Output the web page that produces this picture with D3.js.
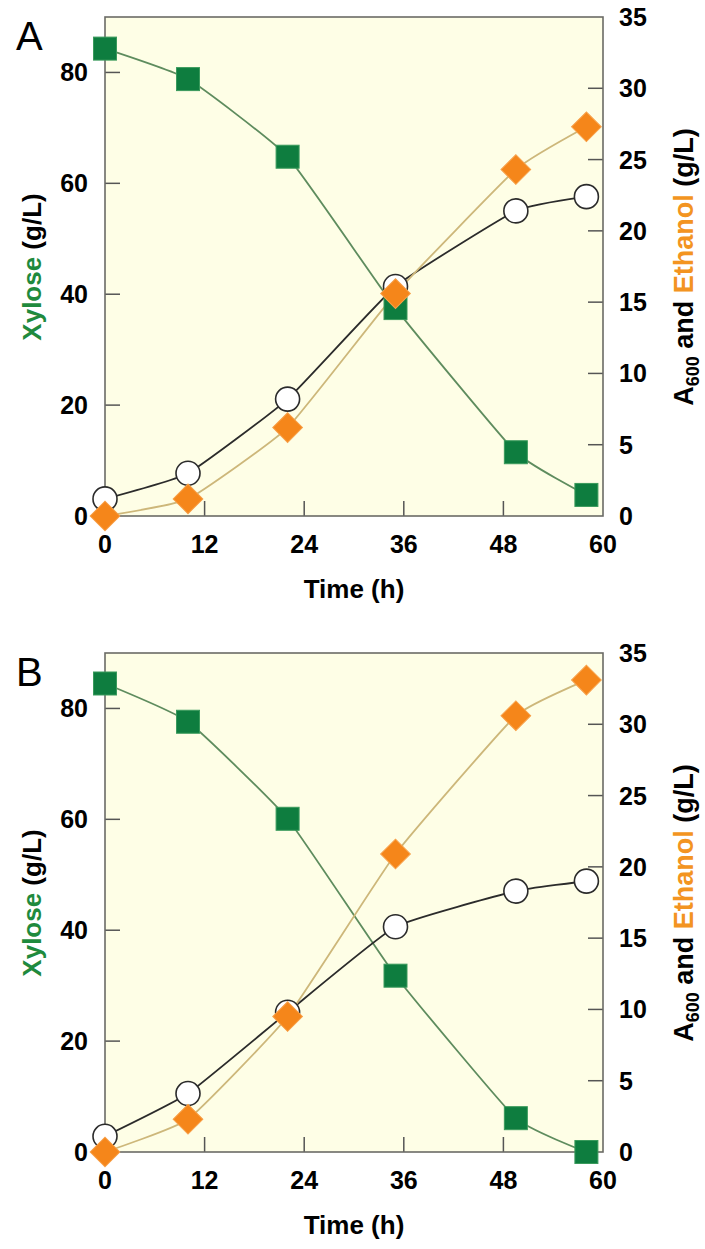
<!DOCTYPE html>
<html>
<head>
<meta charset="utf-8">
<script src="https://cdn.jsdelivr.net/npm/d3@7"></script>
<style>
  body { margin: 0; background: #fff; }
  text { font-family: "Liberation Sans", Arial, sans-serif; }
</style>
</head>
<body>
<div id="chart"></div>
<script>
'use strict';

// sampling times (h)
var time = [0, 10, 22, 35, 49.5, 58];

// panel A
var xyloseA = [84.3, 78.8, 64.8, 37.5, 11.5, 3.8];
var a600A = [1.2, 3.0, 8.2, 16.1, 21.4, 22.4];
var ethanolA = [0, 1.2, 6.2, 15.6, 24.3, 27.3];

// panel B
var xyloseB = [84.5, 77.6, 60.1, 31.8, 6.1, 0];
var a600B = [1.1, 4.1, 9.8, 15.8, 18.3, 19.0];
var ethanolB = [0, 2.3, 9.5, 20.9, 30.6, 33.1];

var xTicks = [0, 12, 24, 36, 48, 60];
var leftTicks = [0, 20, 40, 60, 80];
var rightTicks = [0, 5, 10, 15, 20, 25, 30, 35];

var W = 705, H = 1249;
var green = '#0e7d3f', orange = '#f5861a';

var svg = d3.select('#chart').append('svg')
    .attr('width', W)
    .attr('height', H);

var x = d3.scaleLinear().domain([0, 60]).range([105, 603]);
var yL = d3.scaleLinear().domain([0, 90]).range([499, 0]);
var yR = d3.scaleLinear().domain([0, 35]).range([499, 0]);

function drawPanel(top, letter, xylose, a600, ethanol) {
    var g = svg.append('g').attr('transform', 'translate(0,' + top + ')');
    var h = 499;

    g.append('rect')
        .attr('x', x(0)).attr('y', 0)
        .attr('width', x(60) - x(0)).attr('height', h)
        .attr('fill', '#fefee6');

    // inward ticks
    var tickCol = '#555';
    g.selectAll('.tl').data(leftTicks.filter(function(d) { return d > 0; }))
        .enter().append('line')
        .attr('x1', x(0)).attr('x2', x(0) + 15)
        .attr('y1', function(d) { return yL(d); }).attr('y2', function(d) { return yL(d); })
        .attr('stroke', tickCol).attr('stroke-width', 1.5);
    g.selectAll('.tr').data(rightTicks.filter(function(d) { return d > 0 && d < 35; }))
        .enter().append('line')
        .attr('x1', x(60)).attr('x2', x(60) - 15)
        .attr('y1', function(d) { return yR(d); }).attr('y2', function(d) { return yR(d); })
        .attr('stroke', tickCol).attr('stroke-width', 1.5);
    g.selectAll('.tb').data(xTicks.filter(function(d) { return d > 0 && d < 60; }))
        .enter().append('line')
        .attr('x1', function(d) { return x(d); }).attr('x2', function(d) { return x(d); })
        .attr('y1', h).attr('y2', h - 15)
        .attr('stroke', tickCol).attr('stroke-width', 1.5);

    g.append('rect')
        .attr('x', x(0)).attr('y', 0)
        .attr('width', x(60) - x(0)).attr('height', h)
        .attr('fill', 'none')
        .attr('stroke', '#6b6b66').attr('stroke-width', 1.6);

    // tick labels
    g.selectAll('.ll').data(leftTicks).enter().append('text')
        .attr('x', 88).attr('y', function(d) { return yL(d) + 9; })
        .attr('text-anchor', 'end')
        .attr('font-size', 25).attr('font-weight', 'bold')
        .text(function(d) { return d; });
    g.selectAll('.rl').data(rightTicks).enter().append('text')
        .attr('x', 619).attr('y', function(d) { return yR(d) + 9; })
        .attr('font-size', 25).attr('font-weight', 'bold')
        .text(function(d) { return d; });
    g.selectAll('.bl').data(xTicks).enter().append('text')
        .attr('x', function(d) { return x(d); }).attr('y', h + 37)
        .attr('text-anchor', 'middle')
        .attr('font-size', 25).attr('font-weight', 'bold')
        .text(function(d) { return d; });

    g.append('text')
        .attr('x', 354).attr('y', h + 82)
        .attr('text-anchor', 'middle')
        .attr('font-size', 26).attr('font-weight', 'bold')
        .text('Time (h)');

    g.append('text')
        .attr('x', 16).attr('y', 33)
        .attr('font-size', 40)
        .text(letter);

    var lt = g.append('text')
        .attr('transform', 'translate(41,' + 250 + ') rotate(-90)')
        .attr('text-anchor', 'middle')
        .attr('font-size', 26).attr('font-weight', 'bold');
    lt.append('tspan').attr('fill', '#1f8a3d').text('Xylose');
    lt.append('tspan').text(' (g/L)');

    var rt = g.append('text')
        .attr('transform', 'translate(693,' + 250 + ') rotate(-90)')
        .attr('text-anchor', 'middle')
        .attr('font-size', 27).attr('font-weight', 'bold');
    rt.append('tspan').text('A');
    rt.append('tspan').attr('font-size', 18).attr('dy', 6).text('600');
    rt.append('tspan').attr('dy', -6).text(' and ');
    rt.append('tspan').attr('fill', '#f39421').text('Ethanol');
    rt.append('tspan').text(' (g/L)');

    var pts = function(vals, ys) {
        return vals.map(function(v, i) { return [x(time[i]), ys(v)]; });
    };
    var line = d3.line().curve(d3.curveCardinal.tension(0.6));

    g.append('path').attr('d', line(pts(xylose, yL)))
        .attr('fill', 'none').attr('stroke', '#5e8c5e').attr('stroke-width', 1.8);
    g.append('path').attr('d', line(pts(a600, yR)))
        .attr('fill', 'none').attr('stroke', '#2b2b2b').attr('stroke-width', 1.8);
    g.append('path').attr('d', line(pts(ethanol, yR)))
        .attr('fill', 'none').attr('stroke', '#cdb77a').attr('stroke-width', 1.8);

    var s = 23;
    g.selectAll('.sq').data(pts(xylose, yL)).enter().append('rect')
        .attr('x', function(d) { return d[0] - s / 2; })
        .attr('y', function(d) { return d[1] - s / 2; })
        .attr('width', s).attr('height', s)
        .attr('fill', green).attr('stroke', '#3a9a5c').attr('stroke-width', 1);

    g.selectAll('.ci').data(pts(a600, yR)).enter().append('circle')
        .attr('cx', function(d) { return d[0]; })
        .attr('cy', function(d) { return d[1]; })
        .attr('r', 12)
        .attr('fill', '#fff').attr('stroke', '#2b2b2b').attr('stroke-width', 1.6);

    var dm = d3.symbol().type(d3.symbolSquare).size(21 * 21);
    g.selectAll('.di').data(pts(ethanol, yR)).enter().append('path')
        .attr('d', dm())
        .attr('transform', function(d) { return 'translate(' + d[0] + ',' + d[1] + ') rotate(45)'; })
        .attr('fill', orange).attr('stroke', '#f7a04a').attr('stroke-width', 1);
}

drawPanel(17, 'A', xyloseA, a600A, ethanolA);
drawPanel(653, 'B', xyloseB, a600B, ethanolB);
</script>
</body>
</html>
